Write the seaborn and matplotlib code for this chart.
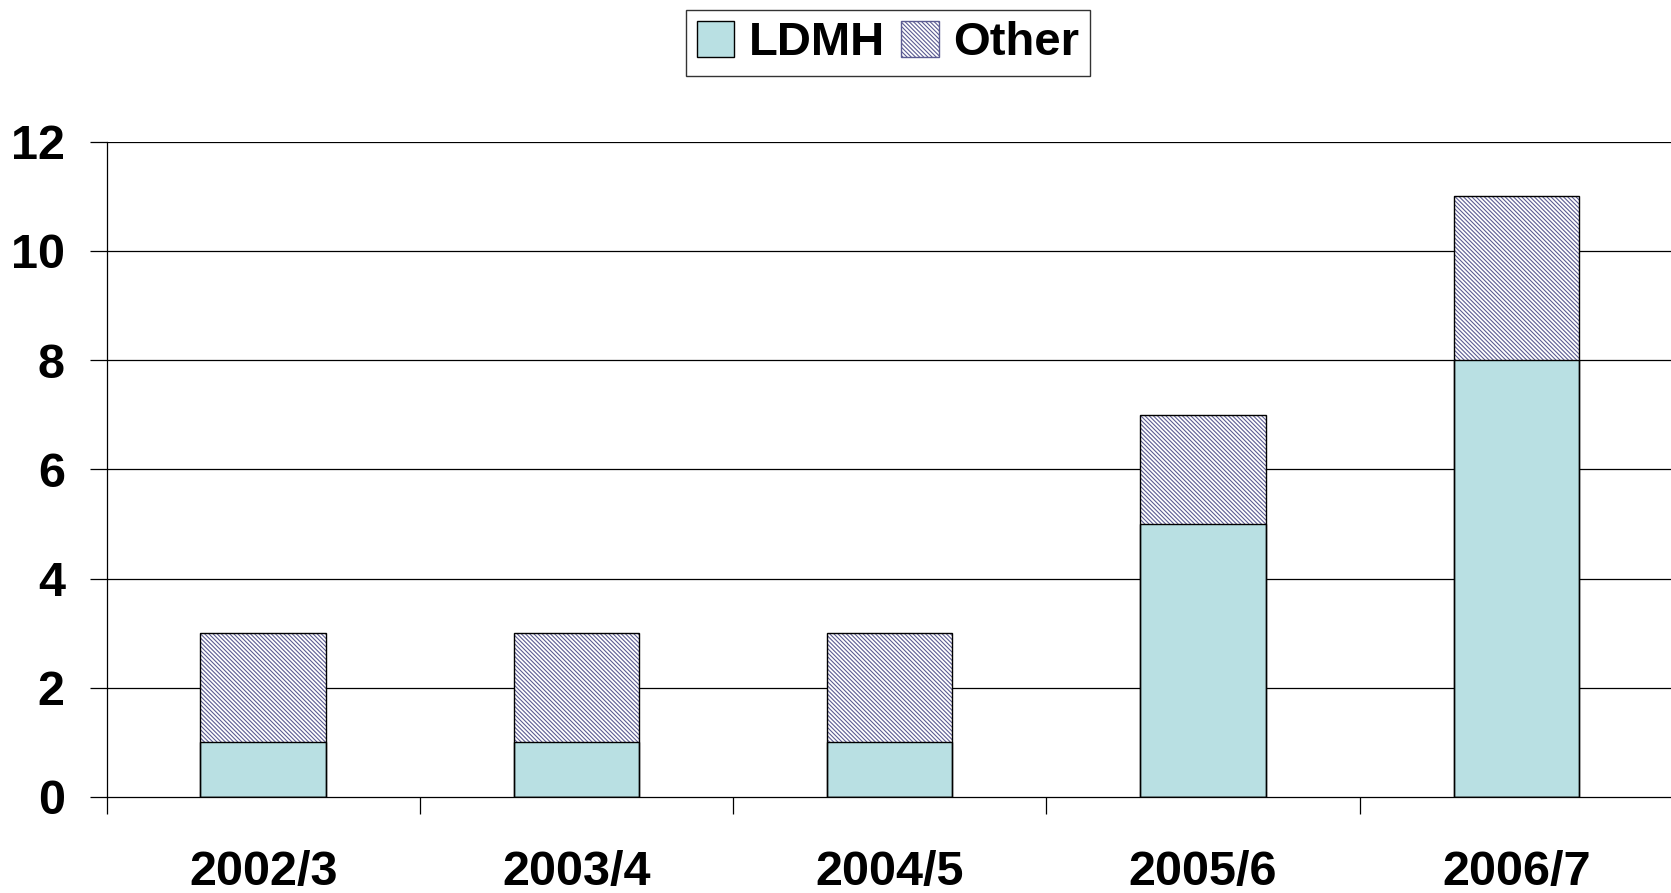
import matplotlib
matplotlib.use("Agg")
import matplotlib.pyplot as plt
from matplotlib.patches import Patch
from matplotlib.ticker import FixedLocator
import seaborn as sns
import pandas as pd

# Yearly counts by group
years = ["2002/3", "2003/4", "2004/5", "2005/6", "2006/7"]
ldmh = [1, 1, 1, 5, 8]
other = [2, 2, 2, 2, 3]
y_ticks = [0, 2, 4, 6, 8, 10, 12]

plt.rcParams["font.family"] = ["Liberation Sans", "DejaVu Sans"]
plt.rcParams["font.weight"] = "bold"
plt.rcParams["hatch.linewidth"] = 0.8

teal = "#b9e0e3"
hatch_col = "#5c5c92"
HATCH = "\\" * 8

df = pd.DataFrame({"year": years, "LDMH": ldmh, "Other": other})
df["total"] = df["LDMH"] + df["Other"]

fig = plt.figure(figsize=(16.71, 8.93), dpi=100)
ax = fig.add_axes([106.5 / 1671, 1 - 797 / 893, (1673 - 106.5) / 1671, (797 - 141.7) / 893])

# horizontal grid behind the bars
for v in y_ticks[1:]:
    ax.axhline(v, color="black", lw=0.9, zorder=0)

# stacked bars: hatched total first, LDMH on top of it
sns.barplot(data=df, x="year", y="total", order=years, width=0.4, color="white",
            edgecolor=hatch_col, linewidth=0, hatch=HATCH, ax=ax, zorder=2,
            saturation=1)
sns.barplot(data=df, x="year", y="LDMH", order=years, width=0.4, color=teal,
            edgecolor="black", linewidth=1.0, ax=ax, zorder=3, saturation=1)
# outlines of the full stacks
sns.barplot(data=df, x="year", y="total", order=years, width=0.4, fill=False,
            edgecolor="black", linewidth=1.0, ax=ax, zorder=4)

ax.set_xlim(-0.5, 4.5)
ax.set_ylim(0, 12)
ax.set_yticks(y_ticks)
ax.set_xlabel("")
ax.set_ylabel("")

ax.xaxis.set_minor_locator(FixedLocator([-0.5, 0.5, 1.5, 2.5, 3.5, 4.5]))
ax.tick_params(axis="x", which="major", length=0, pad=38, labelsize=35)
ax.tick_params(axis="x", which="minor", length=12, width=0.9, direction="out", color="black")
ax.tick_params(axis="y", length=12, width=0.9, direction="out", pad=18, labelsize=35)
for lab in ax.get_xticklabels() + ax.get_yticklabels():
    lab.set_fontweight("bold")

for side in ["top", "right"]:
    ax.spines[side].set_visible(False)
for side in ["left", "bottom"]:
    ax.spines[side].set_color("black")
    ax.spines[side].set_linewidth(0.9)
    ax.spines[side].set_zorder(5)

handles = [
    Patch(facecolor=teal, edgecolor="black", linewidth=1.0, label="LDMH"),
    Patch(facecolor="white", edgecolor=hatch_col, hatch=HATCH, linewidth=1.0, label="Other"),
]
leg = fig.legend(handles=handles, loc="center", bbox_to_anchor=(888 / 1671, 1 - 43 / 893),
                 ncol=2, frameon=True, fancybox=False, edgecolor="black",
                 prop={"size": 34, "weight": "bold"}, handlelength=0.8, handleheight=0.8,
                 handletextpad=0.3, columnspacing=0.35, borderpad=0.22)
leg.get_frame().set_linewidth(1.0)

fig.savefig("out.png", dpi=100, facecolor="white")
